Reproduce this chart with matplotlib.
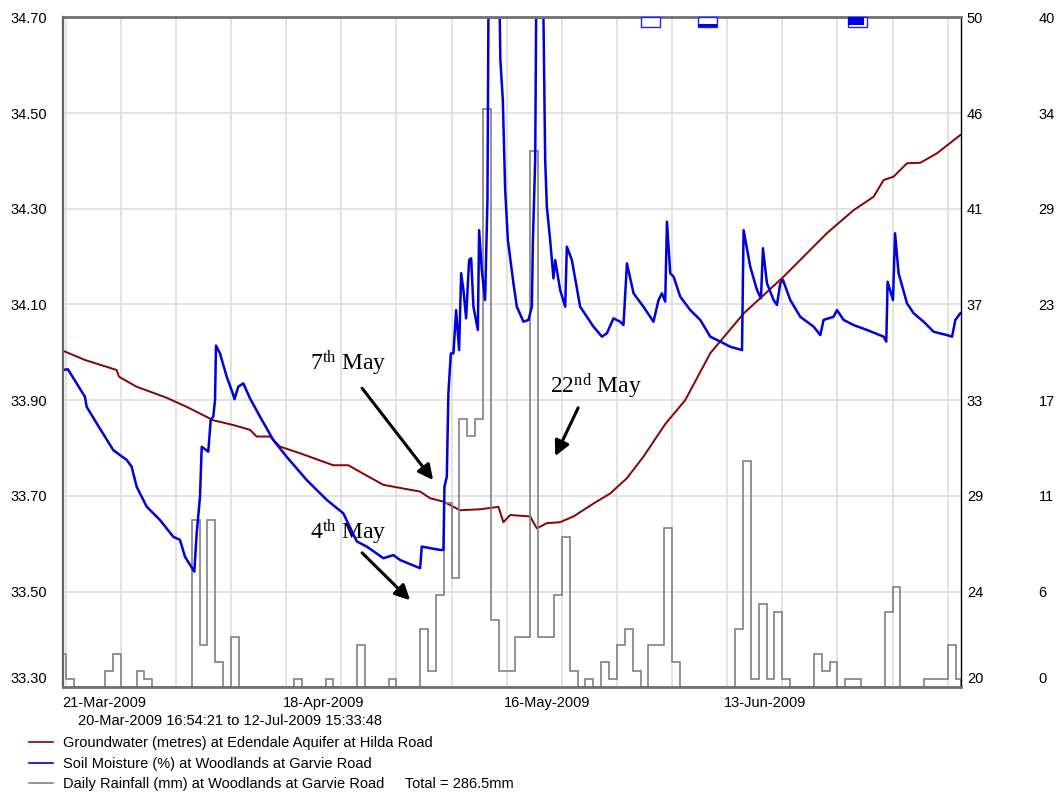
import numpy as np
import matplotlib
matplotlib.use('Agg')
import matplotlib.pyplot as plt
import matplotlib.dates as mdates
from matplotlib.transforms import ScaledTranslation, blended_transform_factory
from matplotlib.patches import Rectangle
from matplotlib.lines import Line2D
from datetime import datetime

plt.rcParams['font.family'] = ['Liberation Sans', 'DejaVu Sans']
plt.rcParams['mathtext.fontset'] = 'custom'
plt.rcParams['mathtext.rm'] = 'Liberation Serif'
plt.rcParams['mathtext.it'] = 'Liberation Serif:italic'

# ---------------- data ----------------
start_time = datetime(2009, 3, 20, 16, 54, 21)
end_time = datetime(2009, 7, 12, 15, 33, 48)
day0 = datetime(2009, 3, 21)   # day offsets below are days after this

# Groundwater (m) at Edendale Aquifer at Hilda Road
gw_day = [-0.296, 2.45, 6.48, 6.77, 9.02, 12.83, 15.37, 18.75, 21.29, 23.41, 24.26,
          25.95, 27.22, 29.76, 33.99, 35.90, 37.39, 40.35, 45.01, 46.28, 47.97, 50.09,
          52.63, 54.95, 55.59, 56.44, 58.98, 59.83, 61.10, 62.79, 64.48, 67.02, 69.14,
          71.27, 73.37, 76.13, 78.67, 81.85, 86.08, 91.16, 96.67, 100.05, 102.59,
          103.86, 105.13, 106.83, 108.52, 110.65, 113.6]
gw_val = [34.003, 33.984, 33.963, 33.949, 33.928, 33.905, 33.886, 33.858, 33.848, 33.838,
          33.824, 33.824, 33.803, 33.789, 33.764, 33.764, 33.750, 33.723, 33.709, 33.695,
          33.688, 33.670, 33.672, 33.677, 33.645, 33.660, 33.657, 33.632, 33.643, 33.645,
          33.657, 33.684, 33.705, 33.737, 33.782, 33.850, 33.900, 33.998, 34.081, 34.158,
          34.249, 34.297, 34.325, 34.360, 34.367, 34.395, 34.396, 34.416, 34.454]

# Soil moisture (%) at Woodlands at Garvie Road
sm_day = [-0.296, 0.29, 2.45, 2.67, 3.94, 6.05, 7.75, 8.38, 9.02, 10.29, 11.98, 13.67,
          14.52, 15.15, 16.21, 16.34, 16.64, 17.06, 17.28, 18.11, 18.42, 18.75, 18.97,
          19.09, 19.60, 20.45, 21.29, 21.44, 21.92, 22.56, 23.41, 24.68, 26.37, 28.07,
          30.61, 33.16, 35.26, 36.97, 38.24, 40.35, 41.62, 42.47, 45.01, 45.22, 47.55,
          47.97, 48.10, 48.40, 48.60, 48.91, 49.24, 49.58, 49.96, 50.22, 50.51, 50.85,
          51.23, 51.49, 51.78, 52.34, 52.50, 52.84, 53.26, 53.56, 53.68, 55.12, 55.2,
          55.51, 55.81, 56.15, 56.86, 57.29, 58.13, 58.77, 59.20, 59.33, 59.62, 59.74,
          60.67, 60.89, 61.10, 61.52, 61.94, 62.16, 62.79, 63.43, 63.64, 64.28, 65.33,
          67.02, 68.09, 68.72, 69.56, 70.41, 70.83, 71.27, 72.11, 73.37, 74.64, 75.28,
          75.71, 76.13, 76.35, 76.77, 77.19, 78.04, 79.31, 80.58, 81.85, 83.12, 84.39,
          85.88, 86.08, 86.93, 87.78, 88.29, 88.54, 89.05, 89.89, 90.32, 90.74, 91.08,
          92.01, 93.28, 94.97, 95.82, 96.24, 97.51, 97.94, 98.78, 100.05, 101.75,
          103.86, 104.20, 104.37, 105.05, 105.31, 105.76, 106.83, 107.67, 108.94,
          110.21, 111.91, 112.55, 112.97, 113.6]
sm_val = [34.21, 34.24, 33.01, 32.56, 31.82, 30.62, 30.18, 29.88, 28.98, 28.09, 27.49, 26.74,
          26.60, 25.85, 25.25, 25.18, 26.90, 28.53, 30.77, 30.55, 31.97, 32.12, 32.87,
          35.30, 34.95, 33.91, 33.09, 32.90, 33.46, 33.61, 32.94, 32.12, 31.07, 30.32,
          29.28, 28.39, 27.79, 26.53, 26.30, 25.78, 25.92, 25.70, 25.33, 26.30, 26.15,
          26.15, 28.98, 29.43, 33.16, 34.95, 34.95, 36.89, 35.10, 38.54, 37.79, 36.52,
          39.13, 39.21, 37.04, 36.00, 40.47, 38.68, 37.34, 41.82, 50.0, 50.0, 48.1,
          46.30, 42.27, 40.03, 38.09, 37.04, 36.37, 36.45, 37.04, 40.0, 43.61, 50.0,
          50.0, 43.61, 41.52, 40.03, 38.31, 39.13, 37.79, 37.04, 39.73, 39.13, 37.04,
          36.15, 35.70, 35.85, 36.52, 36.37, 36.22, 38.98, 37.64, 37.04, 36.37, 37.34,
          37.64, 37.27, 40.85, 38.54, 38.39, 37.49, 36.89, 36.45, 35.70, 35.48, 35.25,
          35.10, 40.47, 38.83, 37.79, 37.42, 39.66, 38.09, 37.34, 37.12, 38.09, 38.24,
          37.34, 36.59, 36.15, 35.77, 36.45, 36.59, 36.89, 36.45, 36.22, 36.00,
          35.70, 35.48, 38.16, 37.34, 40.33, 38.54, 37.19, 36.75, 36.37,
          35.92, 35.77, 35.70, 36.45, 36.75]

# Daily rainfall (mm) at Woodlands at Garvie Road, first value = 20-Mar (part day)
rain_mm = [2.0, 0.5, 0, 0, 0, 0, 1.0, 2.0, 0, 0,
           1.0, 0.5, 0, 0, 0, 0, 0, 10.0, 2.5, 10.0,
           1.5, 0, 3.0, 0, 0, 0, 0, 0, 0, 0,
           0.5, 0, 0, 0, 0.5, 0, 0, 0, 2.5, 0,
           0, 0, 0.5, 0, 0, 0, 3.5, 1.0, 5.5, 11.0,
           6.5, 16.0, 15.0, 16.0, 34.5, 4.0, 1.0, 1.0, 3.0, 3.0,
           32.0, 3.0, 3.0, 5.5, 9.0, 1.0, 0, 0.5, 0, 1.5,
           0.5, 2.5, 3.5, 1.0, 0, 2.5, 2.5, 9.5, 1.5, 0,
           0, 0, 0, 0, 0, 0, 3.5, 13.5, 0.5, 5.0,
           0.5, 4.5, 0.5, 0, 0, 0, 2.0, 1.0, 1.5, 0,
           0.5, 0.5, 0, 0, 0, 4.5, 6.0, 0, 0, 0,
           0.5, 0.5, 0.5, 2.5, 0.5]
rain_total = 286.5

# marker boxes along the top (days after 21-Mar)
box_start = [73.04, 80.28, 99.29]
box_end = [75.41, 82.70, 101.75]

x_tick_labels = ['21-Mar-2009', '18-Apr-2009', '16-May-2009', '13-Jun-2009']
gw_ticks = [33.30, 33.50, 33.70, 33.90, 34.10, 34.30, 34.50, 34.70]
sm_tick_labels = ['20', '24', '29', '33', '37', '41', '46', '50']
rain_tick_labels = ['0', '6', '11', '17', '23', '29', '34', '40']

# ---------------- figure ----------------
W, H = 1059, 793
fig = plt.figure(figsize=(W / 100, H / 100), dpi=100)
L, R, T, B = 63.3, 960.7, 17.3, 687.3
ax = fig.add_axes([L / W, 1 - B / H, (R - L) / W, (B - T) / H])
ax3 = ax.twinx()
ax2 = ax.twinx()
ax.set_zorder(1); ax3.set_zorder(2); ax2.set_zorder(3)
for a in (ax, ax2, ax3):
    a.patch.set_visible(False)

T0 = mdates.date2num(day0)
tstart = mdates.date2num(start_time)
tend = mdates.date2num(end_time)

gw_x = T0 + np.array(gw_day)
sm_x = T0 + np.array(sm_day)
edges = np.concatenate([[tstart], T0 + np.arange(0, 114), [tend]])

ax.plot(gw_x, gw_val, color='#8b0000', lw=1.4)
ax3.stairs(rain_mm, edges, fill=False, baseline=0, color='#808080', lw=1.2)
ax2.plot(sm_x, sm_val, color='#0000dd', lw=1.8)

ax.set_xlim(tstart, tend)
ax.set_ylim(33.30, 34.70)
ax2.set_ylim(20, 50)
ax3.set_ylim(0, 40)

# x ticks: weekly grid, labels every 4 weeks
week_ticks = T0 + 7 * np.arange(17)
ax.set_xticks(week_ticks)
lab = [''] * len(week_ticks)
for i, s in enumerate(x_tick_labels):
    lab[4 * i] = s
ax.set_xticklabels(lab, ha='left', fontsize=10.5)

ax.set_yticks(gw_ticks)
ax.set_yticklabels(['%.2f' % v for v in gw_ticks], fontsize=10.5)
ax2.set_yticks(np.linspace(20, 50, 8))
ax2.set_yticklabels(sm_tick_labels, fontsize=10.5)
ax3.set_yticks(np.linspace(0, 40, 8))
ax3.set_yticklabels(rain_tick_labels, fontsize=10.5)

ax.grid(True, color='#dedede', lw=1.2)
ax.tick_params(axis='both', length=0)
ax.tick_params(axis='y', pad=12)
ax.tick_params(axis='x', pad=6)
ax2.tick_params(axis='y', length=0, pad=4.5)
ax3.tick_params(axis='y', length=0, pad=56)
for t in ax3.get_yticklabels() + ax2.get_yticklabels():
    t.set_ha('left')

for s in ax.spines.values():
    s.set_visible(False)
for s in ax3.spines.values():
    s.set_visible(False)
ax2.spines['top'].set_color('#707070'); ax2.spines['top'].set_linewidth(2)
ax2.spines['bottom'].set_color('#707070'); ax2.spines['bottom'].set_linewidth(2)
ax2.spines['left'].set_color('#606060'); ax2.spines['left'].set_linewidth(1.6)
ax2.spines['right'].set_color('black'); ax2.spines['right'].set_linewidth(1)

# shift x labels slightly left, lowest y labels up
xoff = ScaledTranslation(-0.03, 0, fig.dpi_scale_trans)
for t in ax.get_xticklabels():
    t.set_transform(t.get_transform() + xoff)
yoff = ScaledTranslation(0, 0.10, fig.dpi_scale_trans)
for a in (ax, ax2, ax3):
    tk = a.yaxis.get_major_ticks()[0]
    tk.label1.set_transform(tk.label1.get_transform() + yoff)
    tk.label2.set_transform(tk.label2.get_transform() + yoff)

# marker boxes at the top
btr = blended_transform_factory(ax2.transData, ax2.transAxes)
hb = 10 / (B - T)
for i, (s0, s1) in enumerate(zip(box_start, box_end)):
    x0, x1 = T0 + s0, T0 + s1
    ax2.add_patch(Rectangle((x0, 1 - hb), x1 - x0, hb, transform=btr, facecolor='white',
                            edgecolor='#2020ff', lw=1.0, clip_on=False, zorder=5))
    if i == 1:
        ax2.add_patch(Rectangle((x0, 1 - hb), x1 - x0, hb * 0.3, transform=btr,
                                facecolor='#0000ee', edgecolor='none', clip_on=False, zorder=6))
    if i == 2:
        ax2.add_patch(Rectangle((x0, 1 - hb * 0.75), (x1 - x0) * 0.82, hb * 0.75, transform=btr,
                                facecolor='#0000ee', edgecolor='none', clip_on=False, zorder=6))

# annotations
afont = dict(family=['Liberation Serif', 'DejaVu Serif'], fontsize=17)
aprops = dict(arrowstyle='-|>,head_length=0.9,head_width=0.45', color='black', lw=2.2,
              shrinkA=0, shrinkB=0)
ax.text(T0 + 31.07, 33.978, r'7$^{\mathrm{th}}$ May', va='center', ha='left', zorder=10, **afont)
ax.annotate('', xy=(T0 + 46.66, 33.733), xytext=(T0 + 37.64, 33.925), arrowprops=aprops, zorder=10)
ax.text(T0 + 61.52, 33.930, r'22$^{\mathrm{nd}}$ May', va='center', ha='left', zorder=10, **afont)
ax.annotate('', xy=(T0 + 62.16, 33.783), xytext=(T0 + 65.08, 33.884), arrowprops=aprops, zorder=10)
ax.text(T0 + 31.07, 33.625, r'4$^{\mathrm{th}}$ May', va='center', ha='left', zorder=10, **afont)
ax.annotate('', xy=(T0 + 43.74, 33.482), xytext=(T0 + 37.64, 33.581), arrowprops=aprops, zorder=10)

# period text and legend
fig.text(78 / W, 1 - 721 / H, '%s to %s' % (start_time.strftime('%d-%b-%Y %H:%M:%S'),
                                           end_time.strftime('%d-%b-%Y %H:%M:%S')),
         ha='left', va='center', fontsize=10.5)
handles = [Line2D([], [], color='#8b0000', lw=1.2),
           Line2D([], [], color='#0000dd', lw=1.2),
           Line2D([], [], color='#808080', lw=1.2)]
labels = ['Groundwater (metres) at Edendale Aquifer at Hilda Road',
          'Soil Moisture (%) at Woodlands at Garvie Road',
          'Daily Rainfall (mm) at Woodlands at Garvie Road     Total = %.1fmm' % rain_total]
fig.legend(handles, labels, loc='upper left', bbox_to_anchor=(29 / W, 1 - 736 / H),
           frameon=False, fontsize=10.5, handlelength=1.65, handletextpad=0.65,
           labelspacing=0.46, borderpad=0, borderaxespad=0)

fig.savefig('out.png', dpi=100)
